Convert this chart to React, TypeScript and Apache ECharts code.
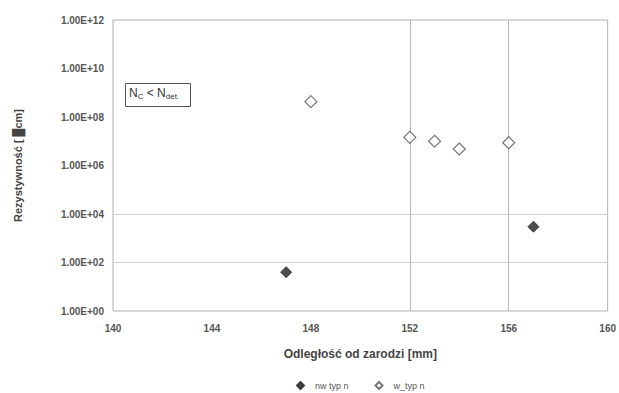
import React, { useEffect, useRef } from "react";
import * as echarts from "echarts";

const nwTypN: [number, number][] = [
  [147, 40],
  [157, 3000],
];
const wTypN: [number, number][] = [
  [148, 4.3e8],
  [152, 1.45e7],
  [153, 1.0e7],
  [154, 4.8e6],
  [156, 8.7e6],
];
const seriesNames = ["nw typ n", "w_typ n"];
const xTitle = "Odległość od zarodzi [mm]";
const yTitle = "Rezystywność [ █cm]";

const FONT = "Liberation Sans, Arial, sans-serif";

export default function App() {
  const ref = useRef<HTMLDivElement>(null);
  useEffect(() => {
    if (!ref.current) return;
    const chart = echarts.init(ref.current, null, { renderer: "svg" });
    chart.setOption({
      animation: false,
      backgroundColor: "#ffffff",
      textStyle: { fontFamily: FONT },
      grid: {
        left: 113,
        right: 9,
        top: 20,
        bottom: 82,
        show: true,
        borderColor: "#b0b0b0",
        borderWidth: 1,
      },
      xAxis: {
        type: "value",
        min: 140,
        max: 160,
        interval: 4,
        name: xTitle,
        nameLocation: "middle",
        nameGap: 37,
        nameTextStyle: { fontSize: 12, color: "#444", fontWeight: "bold", fontFamily: FONT },
        axisLine: { show: false },
        axisTick: { show: false },
        axisLabel: { fontSize: 10, color: "#555", fontWeight: "bold", margin: 12, fontFamily: FONT },
        splitLine: {
          show: true,
          showMinLine: false,
          showMaxLine: false,
          lineStyle: { color: ["transparent", "transparent", "#b8b8b8", "#b8b8b8"], width: 1 },
        },
      },
      yAxis: {
        type: "log",
        logBase: 10,
        min: 1,
        max: 1e12,
        interval: 2,
        name: yTitle,
        nameLocation: "middle",
        nameGap: 90,
        nameRotate: 90,
        nameTextStyle: { fontSize: 11, color: "#444", fontWeight: "bold", fontFamily: FONT },
        axisLine: { show: false },
        axisTick: { show: false },
        axisLabel: {
          fontSize: 10,
          color: "#555",
          fontWeight: "bold",
          margin: 9,
          fontFamily: FONT,
          formatter: (v: number) => {
            const e = Math.round(Math.log10(v));
            return "1.00E+" + String(e).padStart(2, "0");
          },
        },
        splitLine: {
          show: true,
          showMinLine: false,
          showMaxLine: false,
          lineStyle: {
            color: ["#d0d0d0", "#d0d0d0", "transparent", "transparent", "transparent"],
            width: 1,
          },
        },
      },
      legend: {
        top: 376,
        left: 291,
        itemWidth: 7,
        itemHeight: 7,
        itemGap: 26,
        textStyle: { fontSize: 9, color: "#555", fontFamily: FONT, padding: [0, 0, 0, 6] },
        data: [
          { name: seriesNames[0], icon: "diamond" },
          { name: seriesNames[1], icon: "diamond" },
        ],
      },
      graphic: [
        {
          type: "rect",
          left: 125,
          top: 83,
          shape: { width: 65, height: 23 },
          style: { fill: "#fff", stroke: "#555", lineWidth: 1 },
        },
        {
          type: "text",
          left: 129,
          top: 87,
          style: {
            text: "{n|N}{s|C}{n| < N}{s|det.}",
            rich: {
              n: { fontSize: 12, fill: "#333", fontFamily: FONT },
              s: { fontSize: 8, fill: "#333", fontFamily: FONT, padding: [6, 0, 0, 0] },
            },
          },
        },
      ],
      series: [
        {
          name: seriesNames[0],
          type: "scatter",
          data: nwTypN,
          symbol: "diamond",
          symbolSize: 11,
          itemStyle: { color: "#222", borderColor: "#222", borderWidth: 1 },
        },
        {
          name: seriesNames[1],
          type: "scatter",
          data: wTypN,
          symbol: "diamond",
          symbolSize: 12,
          itemStyle: { color: "#fff", borderColor: "#555", borderWidth: 1.2 },
        },
      ],
    });
    return () => chart.dispose();
  }, []);
  return (
    <div
      ref={ref}
      style={{ position: "fixed", left: 0, top: 0, width: 619, height: 393 }}
    />
  );
}
